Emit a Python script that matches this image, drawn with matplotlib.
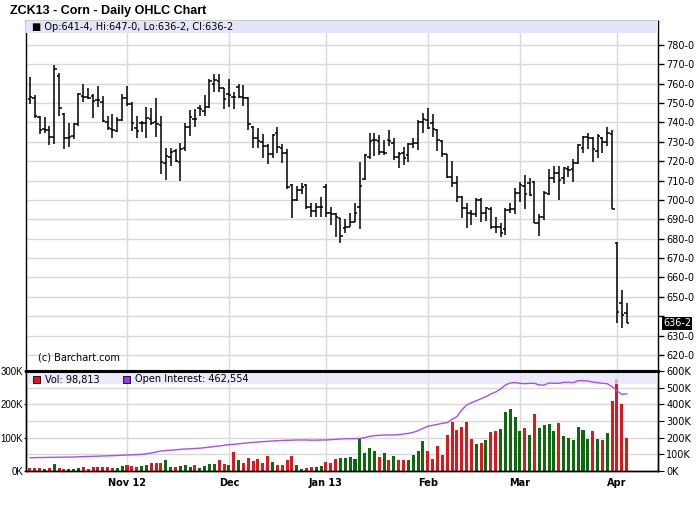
import numpy as np
import pandas as pd
import matplotlib
matplotlib.use('Agg')
import matplotlib.pyplot as plt
from matplotlib.patches import Rectangle
from matplotlib.transforms import blended_transform_factory

# dias de mercado (CBOT) del 4 oct 2012 al 3 abr 2013
holidays = ['2012-11-22', '2012-12-25', '2013-01-01', '2013-01-21', '2013-02-18', '2013-03-29']
dates = pd.bdate_range('2012-10-04', '2013-04-03')
dates = dates[~dates.isin(pd.to_datetime(holidays))]

month_labels = ['Nov 12', 'Dec', 'Jan 13', 'Feb', 'Mar', 'Apr']

opens = [752.0, 752.8, 742.8, 736.6, 736.0, 732.7, 764.0, 744.2, 732.2, 733.0,
         739.0, 753.7, 753.2, 753.8, 751.6, 750.8, 740.4, 736.6, 735.6, 741.1,
         752.8, 749.4, 737.3, 739.6, 739.9, 741.8, 740.4, 738.7, 718.9, 722.4,
         725.3, 719.8, 726.6, 737.9, 741.6, 747.3, 745.9, 748.2, 759.7, 761.4,
         757.6, 754.7, 753.3, 758.3, 753.2, 752.8, 737.9, 731.8, 730.1, 728.0,
         723.6, 734.4, 726.7, 724.4, 707.7, 700.0, 705.2, 707.7, 696.5, 694.5,
         696.5, 706.9, 693.5, 692.8, 690.5, 685.4, 686.2, 688.8, 696.5, 710.7,
         722.4, 730.9, 730.6, 725.0, 731.0, 729.3, 722.4, 724.4, 723.2, 728.9,
         729.6, 740.4, 741.3, 739.6, 736.1, 730.6, 723.7, 711.7, 708.6, 701.4,
         695.7, 693.5, 692.8, 700.0, 693.5, 695.2, 686.2, 685.9, 684.9, 694.8,
         695.2, 703.4, 707.2, 708.9, 709.5, 688.3, 691.0, 703.1, 711.2, 714.1,
         711.2, 715.8, 715.8, 718.9, 726.7, 732.3, 731.8, 725.5, 731.8, 730.1,
         734.1, 678.0, 646.7, 641.5]
highs = [763.4, 754.2, 743.3, 742.8, 738.4, 769.7, 765.4, 745.1, 739.6, 739.6,
         755.2, 759.7, 758.0, 754.5, 758.8, 753.8, 743.3, 744.4, 743.0, 754.5,
         758.8, 750.8, 743.3, 740.8, 748.2, 747.7, 752.8, 743.3, 726.6, 726.6,
         726.3, 729.4, 739.6, 746.4, 746.8, 749.0, 754.2, 762.3, 764.9, 764.9,
         758.0, 762.5, 755.9, 759.7, 759.4, 753.3, 738.4, 737.3, 733.9, 728.7,
         733.9, 737.5, 728.9, 726.1, 708.3, 707.4, 709.0, 708.3, 698.6, 698.3,
         701.4, 708.3, 696.5, 693.5, 690.5, 690.0, 693.5, 698.6, 719.8, 723.7,
         734.8, 734.8, 733.5, 731.0, 736.1, 731.8, 724.9, 727.5, 729.6, 731.8,
         741.3, 744.7, 747.3, 744.4, 736.5, 731.0, 723.7, 720.3, 712.4, 702.0,
         698.3, 694.8, 700.9, 700.9, 696.5, 696.5, 691.0, 688.0, 695.7, 698.6,
         706.0, 709.5, 712.9, 711.2, 710.0, 692.8, 704.8, 715.8, 717.5, 717.5,
         716.9, 717.5, 721.0, 728.9, 733.0, 734.4, 732.3, 734.1, 732.3, 737.5,
         736.1, 678.5, 653.6, 647.0]
lows = [749.7, 742.5, 734.2, 734.8, 728.4, 728.7, 743.5, 726.3, 727.5, 731.7,
        738.4, 750.7, 752.0, 742.5, 748.2, 740.4, 736.3, 731.8, 734.9, 740.8,
        748.7, 735.6, 732.2, 734.9, 732.2, 738.7, 732.3, 713.3, 710.3, 717.7,
        719.8, 709.8, 725.3, 733.2, 737.9, 743.5, 743.5, 747.7, 755.9, 755.6,
        746.8, 748.2, 746.8, 752.5, 748.7, 736.1, 727.0, 726.6, 721.8, 718.4,
        721.5, 724.1, 718.9, 705.5, 690.9, 699.6, 703.1, 695.2, 691.4, 691.1,
        691.4, 691.1, 687.1, 680.7, 678.0, 683.1, 685.9, 688.8, 684.9, 710.3,
        721.0, 722.7, 723.2, 723.2, 727.9, 720.6, 716.3, 718.1, 719.8, 726.7,
        725.8, 734.8, 736.5, 732.3, 725.5, 722.0, 711.2, 706.5, 699.1, 690.5,
        685.4, 687.1, 691.4, 688.8, 689.3, 684.9, 683.1, 680.7, 681.9, 693.1,
        692.8, 699.1, 695.2, 702.1, 687.9, 681.4, 689.7, 702.6, 708.6, 700.0,
        708.3, 712.0, 709.5, 718.6, 724.1, 726.1, 719.8, 721.5, 724.4, 727.9,
        695.2, 636.4, 633.8, 636.25]
closes = [753.0, 743.3, 736.0, 736.3, 732.7, 767.6, 747.3, 732.2, 732.5, 739.0,
          754.5, 753.3, 752.8, 751.1, 751.4, 740.8, 737.0, 736.1, 741.3, 752.5,
          749.4, 739.6, 735.6, 739.9, 742.2, 739.6, 739.0, 719.4, 722.7, 724.9,
          720.1, 726.3, 737.7, 742.7, 741.8, 747.0, 748.2, 761.4, 762.0, 758.0,
          752.1, 754.2, 753.2, 753.3, 752.8, 739.0, 731.8, 730.5, 728.0, 723.6,
          733.6, 727.2, 724.1, 706.9, 700.0, 705.2, 706.5, 696.2, 694.5, 696.5,
          696.2, 693.5, 692.8, 691.1, 681.4, 685.9, 688.8, 693.5, 707.2, 723.2,
          730.6, 730.9, 725.0, 724.4, 730.6, 722.4, 723.5, 721.5, 728.9, 729.6,
          740.4, 741.6, 737.0, 736.5, 731.0, 723.7, 711.7, 708.6, 701.4, 695.7,
          693.5, 692.8, 700.0, 693.5, 695.7, 686.2, 685.9, 683.1, 694.8, 695.2,
          703.4, 707.7, 703.1, 702.6, 688.3, 691.0, 703.5, 711.2, 714.1, 710.3,
          716.3, 715.5, 718.9, 728.4, 732.3, 731.8, 726.1, 733.0, 730.1, 734.8,
          695.2, 642.0, 640.6, 636.25]

# volumen (contratos) y color de cada barra (G = verde, R = rojo)
volume = [8000, 10000, 10000, 6000, 10000, 21000, 10000, 7000, 6000, 6000, 10000,
          12000, 7000, 12000, 12000, 12000, 12000, 10000, 10000, 15000, 19000,
          15000, 13000, 15000, 18000, 25000, 25000, 25000, 33000, 13000, 13000,
          15000, 18000, 13000, 18000, 10000, 15000, 21000, 21000, 33000, 21000,
          18000, 57000, 33000, 23000, 38000, 31000, 35000, 25000, 45000, 28000,
          18000, 18000, 33000, 45000, 18000, 6000, 10000, 12000, 12000, 15000,
          27000, 25000, 36000, 38000, 38000, 41000,
          36000, 97000, 53000, 68000, 60000, 41000, 53000, 33000, 45000, 33000,
          33000, 33000, 48000, 61000, 91000, 61000, 36000, 75000, 48000, 109000,
          146000, 124000, 132000, 147000, 97000, 82000, 85000, 94000, 116000, 121000,
          127000, 177000, 187000, 162000, 119000, 129000, 109000, 172000, 129000, 138000,
          142000, 119000, 144000, 106000, 98000, 94000, 132000, 124000, 97000, 119000,
          97000, 94000, 114000, 210000, 275000, 200000, 98813]
vol_dir = ('R' + 'RRGRGRRGGG' + 'RRRRRRRGGR' + 'RRGGRRRGGR' + 'GGGRGGGGRR'
           + 'GRGRRRRRRG' + 'RRRRGGRRGG' + 'RRRGGG'
           + 'GGGGGRGRGR' + 'RGGGGRRRRR' + 'RRRRRGRGRR' + 'GGGGGRGRGG'
           + 'GGRGGGGGGR' + 'GRGRRRR')

# open interest (contratos)
open_int = [80000, 80000, 81000, 81000, 82000, 82000, 83000, 83000, 84000, 84000,
            85000, 86000, 87000, 88000, 89000, 90000, 91000, 92000, 93000, 95000,
            96000, 97000, 98000, 100000, 103000, 108000, 114000, 120000, 123000, 125000,
            127000, 130000, 132000, 133000, 135000, 137000, 140000, 143000, 147000, 150000,
            154000, 158000, 160000, 163000, 166000, 169000, 172000, 174000, 176000, 178000,
            180000, 182000, 183000, 184000, 185000, 186000, 186000, 186000, 185000, 185000,
            186000, 186000, 188000, 190000, 192000, 194000, 194000, 194000, 196000, 200000,
            208000, 212000, 214000, 216000, 216000, 216000, 218000, 222000, 226000, 232000,
            242000, 256000, 268000, 274000, 280000, 286000, 290000, 310000, 326000, 366000,
            396000, 410000, 422000, 434000, 446000, 462000, 474000, 492000, 516000, 528000,
            530000, 526000, 524000, 526000, 526000, 516000, 516000, 528000, 526000, 526000,
            532000, 532000, 530000, 542000, 542000, 540000, 534000, 530000, 526000, 524000,
            506000, 482000, 460000, 462554]


def fmt_price(v):
    entero = int(v)
    octavos = int(round((v - entero) * 8))
    return f"{entero}-{octavos}"


x = np.arange(len(dates))
month_start = [i for i in range(1, len(dates)) if dates[i].month != dates[i - 1].month]

opens = np.array(opens)
closes = np.array(closes)
vol_k = np.array(volume) / 1000
oi_k = np.array(open_int) / 1000
bar_colors = ['#0b6a0b' if c == 'G' else '#e0161b' for c in vol_dir]

W, H = 700, 512
fig = plt.figure(figsize=(W / 100, H / 100), dpi=100)
ax = fig.add_axes([26 / W, 1 - 371 / H, 632 / W, 350 / H])
axv = fig.add_axes([26 / W, 1 - 471 / H, 632 / W, 100 / H])
grid_col = '#d9d9d9'

# --- grafico OHLC ---
ax.vlines(x, lows, highs, color='black', lw=1.1, zorder=4)
ax.hlines(opens, x - 0.5, x, color='black', lw=1.1, zorder=4)
ax.hlines(closes, x, x + 0.5, color='black', lw=1.1, zorder=4)
ax.set_xlim(-0.82, 129.46)
ax.set_ylim(611.7, 792.4)

yt = np.arange(620, 781, 10)
ax.set_yticks(yt)
ax.set_yticklabels(['' if abs(v - closes[-1]) < 6 else f"{int(v)}-0" for v in yt])
ax.yaxis.tick_right()
ax.set_xticks(month_start)
ax.tick_params(axis='x', length=0, labelbottom=False)
ax.tick_params(axis='y', direction='out', length=4, width=1, labelsize=7, pad=2)
ax.grid(True, color=grid_col, lw=1)
ax.set_axisbelow(True)
for s in ['left', 'top', 'right']:
    ax.spines[s].set_linewidth(1)
ax.spines['bottom'].set_linewidth(2.2)

ax.add_patch(Rectangle((0, 1 - 12 / 350), 1, 12 / 350, transform=ax.transAxes,
                       facecolor='#e4e4fa', edgecolor='none', zorder=3))
ax.text(6 / 632, 1 - 6 / 350,
        f"■ Op:{fmt_price(opens[-1])}, Hi:{fmt_price(highs[-1])}, "
        f"Lo:{fmt_price(lows[-1])}, Cl:{fmt_price(closes[-1])}",
        transform=ax.transAxes, fontsize=7, va='center', zorder=5)
ax.text(12 / 632, 14 / 350, '(c) Barchart.com', transform=ax.transAxes,
        fontsize=7, va='center')

# etiqueta del ultimo cierre
trans = blended_transform_factory(ax.transAxes, ax.transData)
ax.text(1 + 5 / 632, closes[-1], fmt_price(closes[-1]), transform=trans,
        fontsize=7, color='white', va='center', ha='left', clip_on=False,
        bbox=dict(boxstyle='square,pad=0.12', facecolor='black', edgecolor='none'),
        zorder=10)

# --- volumen ---
axv.bar(x, vol_k, width=0.62, color=bar_colors, zorder=2)
axv.set_xlim(ax.get_xlim())
axv.set_ylim(0, 300)
axv.set_yticks([0, 100, 200, 300])
axv.set_yticklabels(['0K', '100K', '200K', '300K'], family='Liberation Sans')
axv.set_yticks([50, 150, 250], minor=True)
axv.tick_params(axis='y', which='minor', length=0)
axv.tick_params(axis='y', direction='out', length=1.5, labelsize=7, pad=0.5)
axv.set_xticks(month_start)
axv.set_xticklabels(month_labels, fontweight='bold', fontsize=7)
axv.tick_params(axis='x', length=0, pad=5)
axv.grid(True, which='both', color=grid_col, lw=1)
axv.set_axisbelow(True)
for s in axv.spines.values():
    s.set_linewidth(1)
axv.spines['top'].set_visible(False)

axo = axv.twinx()
axo.set_ylim(0, 600)
axo.set_yticks(np.arange(0, 601, 100))
axo.set_yticklabels([f"{v}K" for v in range(0, 601, 100)])
axo.tick_params(axis='y', direction='out', length=4, labelsize=7, pad=2)
axo.add_patch(Rectangle((0, 0.87), 1, 0.13, transform=axo.transAxes,
                        facecolor='#e4e4fa', edgecolor='none', alpha=0.75, zorder=1))
axo.plot(x, oi_k, color='#a64dff', lw=1, zorder=3)
axo.spines['top'].set_visible(False)
for s in axo.spines.values():
    s.set_linewidth(1)

axo.add_patch(Rectangle((7 / 632, 0.88), 7 / 632, 0.07, transform=axo.transAxes,
                        facecolor='#e0161b', edgecolor='black', lw=0.6, zorder=4))
axo.text(19 / 632, 0.915, f"Vol: {volume[-1]:,}", transform=axo.transAxes,
         fontsize=7, va='center', zorder=4)
axo.add_patch(Rectangle((97 / 632, 0.88), 7 / 632, 0.07, transform=axo.transAxes,
                        facecolor='#9933ff', edgecolor='black', lw=0.6, zorder=4))
axo.text(109 / 632, 0.915, f"Open Interest: {open_int[-1]:,}", transform=axo.transAxes,
         fontsize=7, va='center', zorder=4)

# linea gruesa entre paneles
fig.add_artist(plt.Line2D([26 / W, 658 / W], [1 - 371 / H, 1 - 371 / H],
                          color='black', lw=2.2))

fig.text(10 / W, 1 - 11 / H, 'ZCK13 - Corn - Daily OHLC Chart', fontsize=9,
         fontweight='bold', family='Liberation Sans', va='center')

fig.savefig('out.png', dpi=100)
